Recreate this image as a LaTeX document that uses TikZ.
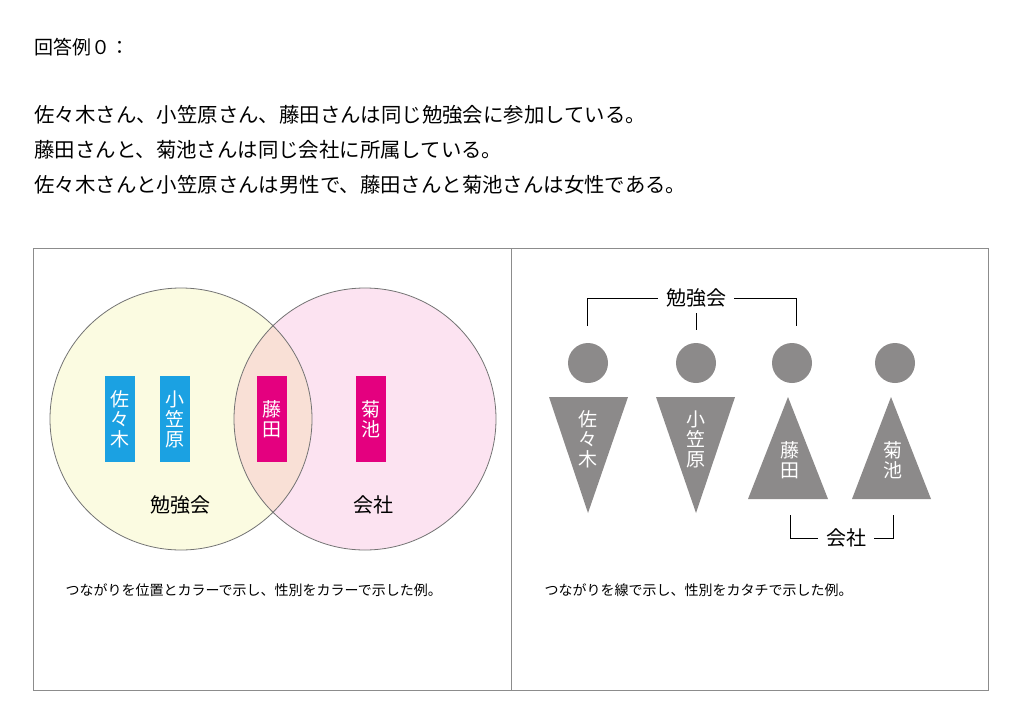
\documentclass[tikz,border=0pt]{standalone}
\usepackage{fontspec}
\setmainfont{Noto Sans CJK JP}
\begin{document}
\begin{tikzpicture}[x=1pt,y=-1pt,
  frame/.style={draw=black!45,line width=0.8pt},
  vbox/.style={minimum width=30pt,minimum height=86pt,inner sep=0pt,text=white,font=\fontsize{19}{20}\selectfont,align=center},
  head/.style={circle,fill=figgray,minimum size=40pt,inner sep=0pt},
  tri/.style={fill=figgray},
  tlab/.style={text=white,font=\fontsize{19}{20}\selectfont,align=center},
  brk/.style={draw=black,line width=0.8pt},
  lab/.style={font=\fontsize{20}{22}\selectfont,inner sep=8pt}]
\definecolor{figgray}{HTML}{8C8A8A}
\definecolor{vyel}{HTML}{FBFBE1}
\definecolor{vpink}{HTML}{FCE3F1}
\definecolor{vmix}{HTML}{F9E0D6}
\definecolor{cy}{HTML}{1BA1E2}
\definecolor{mg}{HTML}{E4007F}
\useasboundingbox (0,0) rectangle (1024,725);
\node[anchor=west,font=\fontsize{19}{20}\selectfont] (t0) at (31,47) {回答例０：};
\node[anchor=west,font=\fontsize{20.4}{22}\selectfont] (t1) at (31,115) {佐々木さん、小笠原さん、藤田さんは同じ勉強会に参加している。};
\node[anchor=west,font=\fontsize{20.4}{22}\selectfont] (t2) at (31,150) {藤田さんと、菊池さんは同じ会社に所属している。};
\node[anchor=west,font=\fontsize{20.4}{22}\selectfont] (t3) at (31,185) {佐々木さんと小笠原さんは男性で、藤田さんと菊池さんは女性である。};
\draw[frame] (33,248) rectangle (511,690);
\draw[frame] (511,248) rectangle (988,690);
% Venn
\fill[vyel] (181,419) circle (131);
\fill[vpink] (365,419) circle (131);
\begin{scope}
\clip (181,419) circle (131);
\fill[vmix] (365,419) circle (131);
\end{scope}
\draw[black!55,line width=0.8pt] (181,419) circle (131);
\draw[black!55,line width=0.8pt] (365,419) circle (131);
\node[vbox,fill=cy] (s) at (120,419) {佐\\々\\木};
\node[vbox,fill=cy] (o) at (175,419) {小\\笠\\原};
\node[vbox,fill=mg] (f) at (272,419) {藤\\田};
\node[vbox,fill=mg] (k) at (371,419) {菊\\池};
\node[lab] (lb) at (180,505) {勉強会};
\node[lab] (lk) at (373,505) {会社};
\node[anchor=west,font=\fontsize{14}{15}\selectfont] (c1) at (62,590) {つながりを位置とカラーで示し、性別をカラーで示した例。};
\node[anchor=west,font=\fontsize{14}{15}\selectfont] (c2) at (541,590) {つながりを線で示し、性別をカタチで示した例。};
% figures
\node[head] (h1) at (588,363) {};
\node[head] (h2) at (696,363) {};
\node[head] (h3) at (792,363) {};
\node[head] (h4) at (895,363) {};
\fill[tri] (549,397) -- (628,397) -- (588,513) -- cycle;
\fill[tri] (656,397) -- (735,397) -- (696,513) -- cycle;
\fill[tri] (748,499) -- (828,499) -- (788,397) -- cycle;
\fill[tri] (852,499) -- (931,499) -- (891,397) -- cycle;
\node[tlab] (p1) at (588,439) {佐\\々\\木};
\node[tlab] (p2) at (696,439) {小\\笠\\原};
\node[tlab] (p3) at (790,460) {藤\\田};
\node[tlab] (p4) at (893,460) {菊\\池};
\node[lab] (gb) at (696,298) {勉強会};
\node[lab] (gk) at (846,538) {会社};
\draw[brk] (587,326) -- (587,298) -- (gb.west);
\draw[brk] (gb.east) -- (796,298) -- (796,326);
\draw[brk] (696,313) -- (696,330);
\draw[brk] (790,515) -- (790,538) -- (gk.west);
\draw[brk] (gk.east) -- (893,538) -- (893,515);
\end{tikzpicture}
\end{document}
